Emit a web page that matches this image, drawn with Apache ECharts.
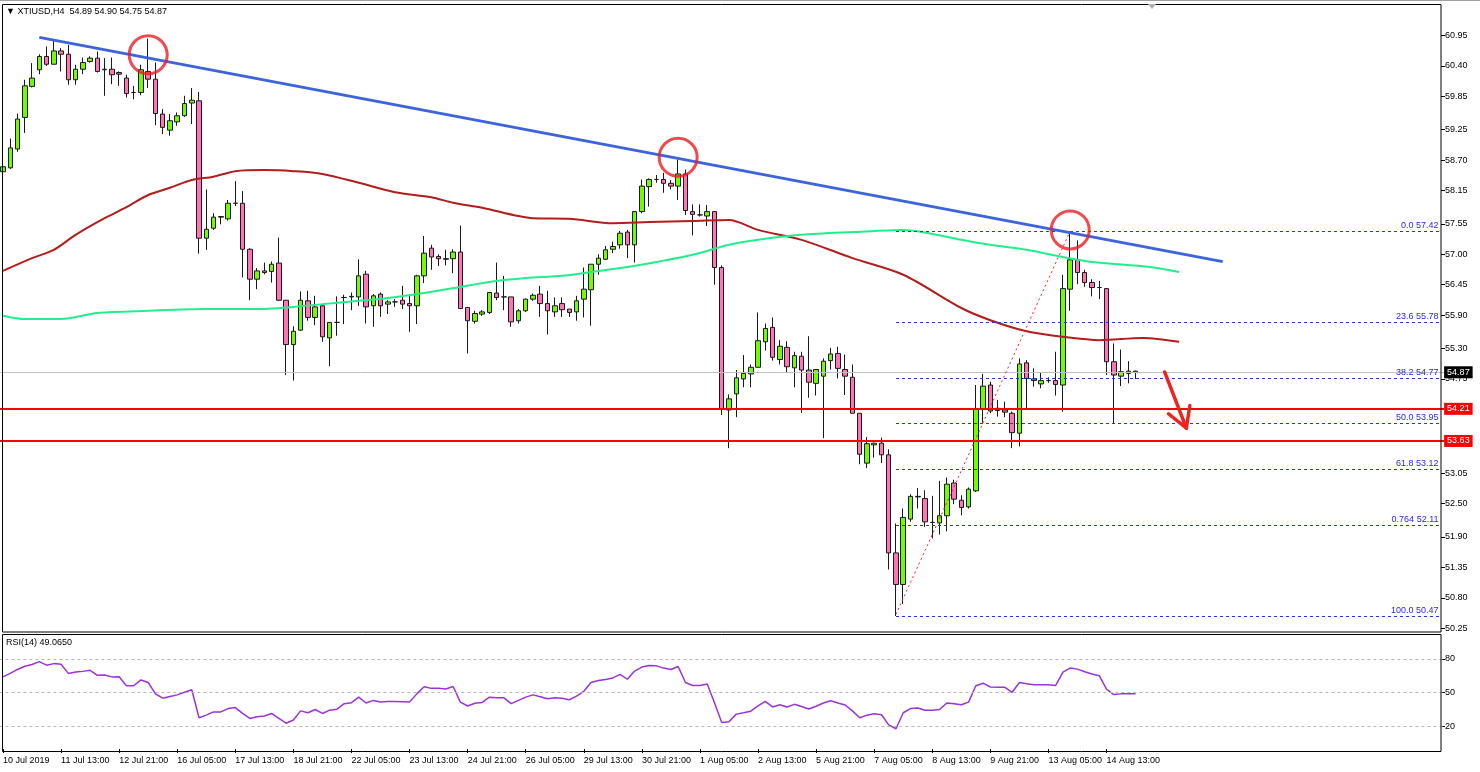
<!DOCTYPE html>
<html><head><meta charset="utf-8">
<script src="https://cdn.jsdelivr.net/npm/echarts@6.0.0/dist/echarts.min.js"></script>
<style>html,body{margin:0;padding:0;background:#fff}#c{width:1480px;height:772px}</style>
</head><body><div id="c"></div>
<script>
// ---------- data ----------
const xTickLabels = ['10 Jul 2019','11 Jul 13:00','12 Jul 21:00','16 Jul 05:00','17 Jul 13:00','18 Jul 21:00','22 Jul 05:00','23 Jul 13:00','24 Jul 21:00','26 Jul 05:00','29 Jul 13:00','30 Jul 21:00','1 Aug 05:00','2 Aug 13:00','5 Aug 21:00','7 Aug 05:00','8 Aug 13:00','9 Aug 21:00','13 Aug 05:00','14 Aug 13:00'];
const yTickLabels = ['60.95','60.40','59.85','59.25','58.70','58.15','57.55','57.00','56.45','55.90','55.30','54.75','53.05','52.50','51.90','51.35','50.80','50.25'];
const rsiTickLabels = ['80','50','20'];

const open = [58.49,58.56,58.90,59.47,60.03,60.33,60.57,60.43,60.67,60.61,
60.15,60.34,60.48,60.54,60.34,60.34,60.28,60.18,59.92,59.92,
60.30,60.16,59.53,59.24,59.39,59.50,59.73,59.77,57.29,57.47,
57.67,57.64,57.92,57.92,57.09,56.55,56.70,56.69,56.84,56.17,
55.37,55.63,56.16,55.86,56.07,55.49,55.77,56.22,56.23,56.23,
56.64,56.07,56.28,56.10,56.14,56.17,56.11,56.07,56.61,57.11,
56.96,56.92,56.92,57.04,56.04,55.79,55.92,55.95,56.30,56.23,
56.23,55.80,55.98,56.19,56.28,56.11,55.96,56.11,56.01,55.96,
56.19,56.36,56.82,56.91,57.09,57.17,57.40,57.17,57.77,58.22,
58.35,58.35,58.28,58.23,58.45,57.77,57.71,57.69,57.77,56.76,
54.19,54.48,54.75,54.84,54.96,55.42,55.68,55.10,55.32,54.95,
55.16,54.91,54.67,54.80,55.08,55.21,54.92,54.78,54.13,53.23,
53.56,53.59,53.38,51.61,51.04,52.22,52.63,52.59,52.16,52.15,
52.28,52.87,52.56,52.44,52.73,54.20,54.64,54.22,54.19,54.13,
53.77,55.04,54.75,54.66,54.72,54.72,54.64,56.37,56.90,56.67,
56.49,56.40,56.38,55.06,54.80,54.85,54.89];
const high = [58.61,59.09,59.54,60.15,60.45,60.61,60.75,60.87,60.72,60.78,
60.42,60.55,60.57,60.66,60.54,60.55,60.30,60.24,60.04,60.42,
60.89,60.46,59.62,59.53,59.56,59.86,60.00,59.93,58.17,57.74,
57.68,57.98,58.32,58.14,57.11,56.75,56.85,56.87,57.30,56.17,
55.70,56.33,56.34,56.25,56.07,55.77,56.24,56.27,56.31,56.91,
56.70,56.28,56.31,56.17,56.19,56.43,56.27,56.63,57.33,57.17,
57.00,57.08,57.09,57.52,56.04,55.98,55.99,56.32,56.85,56.61,
56.23,56.01,56.20,56.29,56.43,56.34,56.22,56.22,56.01,56.25,
56.76,56.82,57.00,57.15,57.23,57.42,57.44,57.78,58.35,58.37,
58.43,58.47,58.34,58.71,58.53,57.90,57.90,57.89,57.78,56.80,
54.47,54.91,55.18,55.01,55.95,55.75,55.86,55.45,55.43,55.24,
55.24,55.52,54.92,55.12,55.31,55.33,55.19,55.01,54.13,53.70,
53.60,53.69,53.48,52.14,52.41,52.67,52.78,52.74,52.64,52.91,
52.97,52.93,52.65,52.79,54.64,54.84,54.70,54.37,54.34,54.16,
55.12,55.09,54.94,54.86,54.78,55.24,56.63,57.42,57.25,56.72,
56.55,56.52,56.38,55.39,55.28,55.07,54.90];
const low = [58.47,58.54,58.85,59.19,60.01,60.25,60.40,60.43,60.30,60.06,
60.06,60.25,60.46,60.28,59.86,60.07,60.04,59.83,59.80,59.87,
60.00,59.33,59.17,59.14,59.32,59.48,59.35,57.01,57.08,57.44,
57.54,57.61,57.87,56.58,56.17,56.37,56.64,56.49,56.16,54.82,
54.72,55.62,55.80,55.72,55.42,54.98,55.53,55.74,55.99,56.07,
55.75,55.69,55.87,55.92,56.05,56.01,55.60,55.74,56.48,56.72,
56.79,56.80,56.66,56.02,55.21,55.75,55.89,55.92,56.17,55.99,
55.69,55.75,55.96,56.16,55.87,55.55,55.87,55.87,55.87,55.80,
55.86,55.71,56.63,56.90,57.02,57.10,56.93,56.85,57.74,57.86,
58.29,58.11,58.17,57.98,57.71,57.34,57.68,57.51,56.45,54.10,
53.50,54.06,54.60,54.60,54.96,55.26,55.08,55.01,54.87,54.60,
54.14,54.41,54.45,53.68,54.92,54.76,54.46,54.13,53.21,53.14,
53.33,53.23,51.31,50.47,50.69,52.17,52.41,52.08,51.87,51.94,
52.00,52.49,52.29,52.41,52.71,53.96,54.13,54.07,54.06,53.50,
53.53,54.22,54.61,54.58,54.68,54.45,54.16,55.98,56.46,56.41,
56.24,56.19,54.82,53.94,54.62,54.67,54.75];
const close = [58.58,58.92,59.44,60.04,60.18,60.57,60.43,60.67,60.61,60.15,
60.34,60.46,60.54,60.30,60.33,60.24,60.25,59.90,59.92,60.33,
60.16,59.54,59.29,59.41,59.50,59.72,59.78,57.29,57.45,57.67,
57.68,57.92,57.92,57.09,56.55,56.70,56.67,56.82,56.17,55.37,
55.61,56.17,55.86,56.05,55.51,55.77,55.77,56.22,56.24,56.61,
56.05,56.25,56.07,56.14,56.14,56.10,56.07,56.61,57.02,56.95,
56.92,56.91,57.04,56.02,55.80,55.93,55.96,56.31,56.22,56.23,
55.78,55.98,56.19,56.26,56.11,55.98,56.07,56.00,55.95,56.16,
56.37,56.82,56.93,57.08,57.14,57.38,57.17,57.77,58.23,58.35,
58.35,58.28,58.23,58.45,57.79,57.72,57.71,57.77,56.76,54.20,
54.39,54.77,54.85,54.96,55.44,55.66,55.14,55.34,54.97,55.17,
54.91,54.69,54.92,55.07,55.20,54.94,54.80,54.13,53.39,53.58,
53.59,53.38,51.61,51.04,52.25,52.63,52.62,52.17,52.16,52.28,
52.85,52.58,52.43,52.76,54.20,54.62,54.17,54.18,54.15,53.78,
55.02,54.76,54.72,54.72,54.72,54.65,56.38,56.90,56.67,56.49,
56.40,56.40,55.06,54.82,54.88,54.89,54.87];
const rsi = [64.1,67.2,70.7,73.6,75.1,77.7,74.5,75.9,75.4,67.2,
68.4,69.0,69.9,65.5,65.8,64.1,64.3,56.2,56.2,61.4,
59.1,49.0,45.2,46.7,48.1,50.4,52.7,27.8,30.1,33.0,
33.0,35.9,36.8,31.6,27.2,28.7,29.3,31.6,27.2,22.9,
25.8,33.9,32.2,35.1,31.6,34.5,35.4,40.3,41.2,46.1,
40.9,43.2,41.7,42.3,42.3,42.0,41.7,49.0,55.4,53.9,
53.9,53.3,55.6,41.7,38.2,40.6,41.4,46.1,45.5,45.5,
40.3,43.2,46.1,48.1,46.4,44.6,45.5,45.2,43.8,47.0,
51.3,59.1,60.9,61.7,63.2,66.4,62.0,69.3,72.8,74.2,
73.9,71.9,70.7,73.3,59.1,56.5,56.5,57.7,41.2,23.5,
24.3,31.0,32.2,33.6,38.3,42.3,37.4,39.4,37.4,39.7,
37.7,35.6,38.0,40.9,42.9,40.9,39.1,33.9,27.8,30.1,
31.3,30.4,21.4,18.0,32.2,35.9,36.5,34.5,34.5,35.1,
40.9,40.3,39.4,41.7,56.2,58.5,55.1,54.8,54.8,50.4,
59.1,58.0,57.1,57.1,57.1,56.5,68.4,71.9,71.0,68.7,
66.7,65.2,53.3,48.4,49.0,49.0,49.07];

const ma100Bars = [0,4,7,10,14,17,20,23,26,29,32,36,40,44,49,54,59,62,66,73,78,84,89,95,100,104,110,117,124,132,136,141,146,151,157,162];
const ma100Vals = [56.70,56.93,57.08,57.35,57.65,57.85,58.07,58.20,58.34,58.40,58.50,58.52,58.50,58.45,58.29,58.12,58.03,57.93,57.84,57.65,57.64,57.56,57.58,57.60,57.62,57.44,57.26,56.93,56.63,56.03,55.81,55.61,55.51,55.45,55.49,55.42];
const ma200Bars = [0,3,8,13,20,28,35,40,44,49,53,58,63,67,72,77,81,86,90,95,100,104,110,117,124,132,136,141,146,150,158,162];
const ma200Vals = [55.89,55.83,55.83,55.94,55.98,56.01,56.01,56.05,56.10,56.16,56.21,56.30,56.41,56.50,56.57,56.61,56.68,56.77,56.86,56.99,57.17,57.26,57.35,57.40,57.44,57.26,57.17,57.08,56.95,56.86,56.77,56.68];

const supportLevels = [54.21, 53.63];
const lastPrice = 54.87;
const fibRatios = ['0.0','23.6','38.2','50.0','61.8','0.764','100.0'];
const fibLevels = [57.42,55.78,54.77,53.95,53.12,52.11,50.47];
const fibStartBar = 123, fibEndBar = 198;
const fibAnchorLow = [123, 50.5], fibAnchorHigh = [147, 57.42];
const trendStart = [5, 60.915], trendEnd = [168, 56.867];
const circleBars = [20, 93, 147], circlePrices = [60.60, 58.75, 57.44];
const arrowFrom = [160, 54.875], arrowTo = [163, 53.86];
const rsiLevels = [80, 50, 20];
const N_SLOTS = 199;

// ---------- chart ----------
const FONT = 'Liberation Sans, Arial, sans-serif';
const cats = Array.from({length: N_SLOTS}, (_, i) => String(i));
const candles = open.map((o, i) => [o, close[i], low[i], high[i]]);
const yTickValues = yTickLabels.map(parseFloat);
const rsiTickValues = rsiTickLabels.map(parseFloat);
const showX = (idx) => idx % 8 === 0 && idx / 8 < xTickLabels.length;

const BAR = 7.26, LEFT = 3 - BAR / 2;
const chart = echarts.init(document.getElementById('c'), null, {renderer: 'canvas'});

const markLineData = [];
supportLevels.forEach(v => markLineData.push({
  yAxis: v,
  lineStyle: {color: '#ff0000', width: 2, type: 'solid'},
  label: {show: true, position: 'end', distance: 0, formatter: v.toFixed(2), color: '#fff',
    backgroundColor: '#ff0000', padding: [2, 3, 1, 3], fontSize: 9, fontFamily: FONT}
}));
markLineData.push({
  yAxis: lastPrice,
  lineStyle: {color: '#c0c0c0', width: 1, type: 'solid'},
  label: {show: true, position: 'end', distance: 0, formatter: lastPrice.toFixed(2), color: '#fff',
    backgroundColor: '#000', padding: [2, 3, 1, 3], fontSize: 9, fontFamily: FONT}
});
fibLevels.forEach((v, i) => markLineData.push([
  {coord: [fibStartBar, v], lineStyle: {color: '#2233ee', width: 1, type: [3, 3]},
   label: {show: true, position: 'insideEndTop', distance: [2, 1], formatter: fibRatios[i] + ' ' + v.toFixed(2),
     color: '#2a2ae6', fontSize: 9, fontFamily: FONT}},
  {coord: [fibEndBar, v]}
]));
markLineData.push([
  {coord: trendStart, lineStyle: {color: '#3e64dc', width: 3, type: 'solid'}, label: {show: false}},
  {coord: trendEnd}
]);
markLineData.push([
  {coord: fibAnchorLow, lineStyle: {color: '#ee2222', width: 1, type: [2, 3]}, label: {show: false}},
  {coord: fibAnchorHigh}
]);

const option = {
  animation: false,
  backgroundColor: '#fff',
  grid: [
    {left: LEFT, top: 4, width: BAR * N_SLOTS, height: 628, outerBoundsMode: 'none', containLabel: false},
    {left: LEFT, top: 635, width: BAR * N_SLOTS, height: 116.5, outerBoundsMode: 'none', containLabel: false}
  ],
  xAxis: [
    {type: 'category', gridIndex: 0, data: cats, boundaryGap: true, show: false},
    {type: 'category', gridIndex: 1, data: cats, boundaryGap: true,
     axisLine: {show: false},
     axisTick: {show: true, alignWithLabel: true, interval: showX, length: 4, lineStyle: {color: '#000'}},
     axisLabel: {show: true, interval: showX, align: 'left', margin: 5, color: '#000', fontSize: 9, fontFamily: FONT,
       formatter: (v) => { const i = parseInt(v, 10); return showX(i) ? xTickLabels[i / 8] : ''; }},
     splitLine: {show: false}}
  ],
  yAxis: [
    {type: 'value', gridIndex: 0, position: 'right', offset: -3.1, min: 50.182, max: 61.517, scale: true,
     axisLine: {show: false}, splitLine: {show: false},
     axisTick: {show: true, length: 4, lineStyle: {color: '#000'}, customValues: yTickValues},
     axisLabel: {show: true, customValues: yTickValues, margin: 4, color: '#000', fontSize: 9, fontFamily: FONT,
       formatter: (v) => v.toFixed(2)}},
    {type: 'value', gridIndex: 1, position: 'right', offset: -3.1, min: -2.22, max: 101.33,
     axisLine: {show: false}, splitLine: {show: false},
     axisTick: {show: true, length: 4, lineStyle: {color: '#000'}, customValues: rsiTickValues},
     axisLabel: {show: true, customValues: rsiTickValues, margin: 4, color: '#000', fontSize: 9, fontFamily: FONT,
       formatter: (v) => String(Math.round(v))}}
  ],
  series: [
    {type: 'candlestick', name: 'XTIUSD', xAxisIndex: 0, yAxisIndex: 0, data: candles, barWidth: 5, z: 2,
     itemStyle: {color: '#74fb00', color0: '#ff74b4', borderColor: '#1a1a1a', borderColor0: '#1a1a1a', borderColorDoji: '#1a1a1a', borderWidth: 1}},
    {type: 'line', name: 'MA100', xAxisIndex: 0, yAxisIndex: 0, z: 3, smooth: 0.3, showSymbol: false, symbol: 'none',
     data: ma100Bars.map((b, i) => [b, ma100Vals[i]]),
     lineStyle: {color: '#b21d1d', width: 2},
     markLine: {silent: true, symbol: ['none', 'none'], label: {show: false}, emphasis: {disabled: true}, animation: false,
       data: markLineData}},
    {type: 'line', name: 'MA200', xAxisIndex: 0, yAxisIndex: 0, z: 3, smooth: 0.3, showSymbol: false, symbol: 'none',
     data: ma200Bars.map((b, i) => [b, ma200Vals[i]]),
     lineStyle: {color: '#22ee8c', width: 2}},
    {type: 'scatter', name: 'circles', xAxisIndex: 0, yAxisIndex: 0, z: 6, symbol: 'circle', symbolSize: 38,
     data: circleBars.map((b, i) => [b, circlePrices[i]]),
     itemStyle: {color: 'rgba(0,0,0,0)', borderColor: '#ee1c25', borderWidth: 3}},
    {type: 'custom', name: 'arrow', xAxisIndex: 0, yAxisIndex: 0, z: 6,
     data: [[arrowFrom[0], arrowFrom[1], arrowTo[0], arrowTo[1]]],
     encode: {x: [0, 2], y: [1, 3]},
     renderItem: (params, api) => {
       const a = api.coord([api.value(0), api.value(1)]);
       const b = api.coord([api.value(2), api.value(3)]);
       const ang = Math.atan2(b[1] - a[1], b[0] - a[0]);
       const L = 23, sp = 0.52;
       const h1 = [b[0] - L * Math.cos(ang - sp), b[1] - L * Math.sin(ang - sp)];
       const h2 = [b[0] - L * Math.cos(ang + sp), b[1] - L * Math.sin(ang + sp)];
       const st = {stroke: '#ee2222', lineWidth: 3.5, fill: null, lineCap: 'round', lineJoin: 'round'};
       return {type: 'group', children: [
         {type: 'polyline', shape: {points: [a, b]}, style: st},
         {type: 'polyline', shape: {points: [h1, b, h2]}, style: st}
       ]};
     }},
    {type: 'line', name: 'RSI', xAxisIndex: 1, yAxisIndex: 1, z: 3, showSymbol: false, symbol: 'none',
     data: rsi, lineStyle: {color: '#9b34d6', width: 1.5},
     markLine: {silent: true, symbol: ['none', 'none'], label: {show: false}, animation: false,
       lineStyle: {color: '#b8b8b8', width: 1, type: [3, 3]},
       data: rsiLevels.map(v => ({yAxis: v}))}}
  ],
  graphic: [
    {type: 'line', shape: {x1: 0, y1: 0.5, x2: 1480, y2: 0.5}, style: {stroke: '#a0a0a0', lineWidth: 1}, silent: true},
    {type: 'rect', shape: {x: 2.5, y: 4.5, width: 1438.5, height: 627.5}, style: {stroke: '#000', fill: null, lineWidth: 1}, silent: true, z: 10},
    {type: 'rect', shape: {x: 2.5, y: 634.5, width: 1438.5, height: 117}, style: {stroke: '#000', fill: null, lineWidth: 1}, silent: true, z: 10},
    {type: 'polygon', shape: {points: [[1148, 4], [1156, 4], [1152, 9]]}, style: {fill: '#b0b0b0'}, silent: true, z: 11},
    {type: 'text', left: 6, top: 7, style: {text: '\u25BC XTIUSD,H4  54.89 54.90 54.75 54.87', fill: '#000', font: '9px ' + FONT}, silent: true, z: 11},
    {type: 'text', left: 6, top: 638, style: {text: 'RSI(14) 49.0650', fill: '#000', font: '9px ' + FONT}, silent: true, z: 11}
  ]
};
chart.setOption(option);
</script>
</body></html>
